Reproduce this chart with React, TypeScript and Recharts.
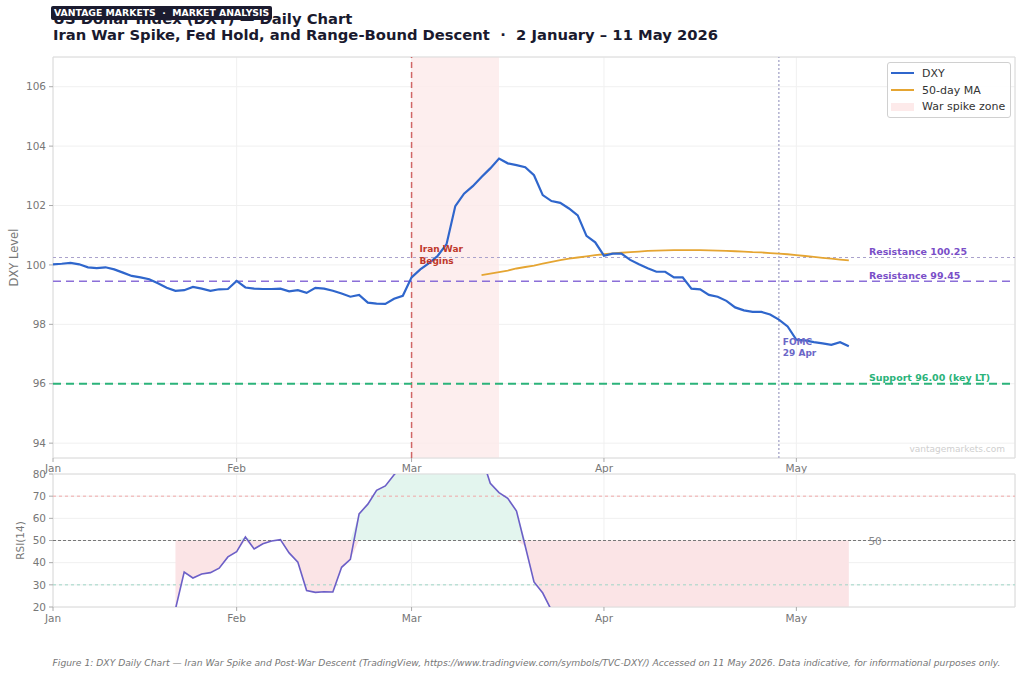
import {
  ComposedChart,
  Line,
  Area,
  XAxis,
  YAxis,
  CartesianGrid,
  ReferenceLine,
  ReferenceArea,
  ReferenceDot,
} from "recharts";

// x is a weekday index starting 2 Jan 2026 (0) through 11 May 2026 (91)
const MONTH_TICKS = [0, 21, 41, 63, 85];
const MONTH_LABELS = ["Jan", "Feb", "Mar", "Apr", "May"];
const DXY_TICKS = [94, 96, 98, 100, 102, 104, 106];
const RSI_TICKS = [20, 30, 40, 50, 60, 70, 80];

const DXY = [
  100.02, 100.04, 100.07, 100.02, 99.92, 99.89, 99.92, 99.85, 99.74, 99.63,
  99.58, 99.52, 99.38, 99.23, 99.13, 99.15, 99.26, 99.2, 99.13, 99.18,
  99.19, 99.46, 99.24, 99.2, 99.19, 99.19, 99.2, 99.11, 99.15, 99.06,
  99.23, 99.2, 99.13, 99.04, 98.93, 98.99, 98.73, 98.7, 98.69, 98.86,
  98.96, 99.58, 99.85, 100.06, 100.31, 100.7, 101.98, 102.4, 102.65, 102.96,
  103.25, 103.58, 103.42, 103.36, 103.29, 103.02, 102.35, 102.15, 102.09, 101.9,
  101.67, 100.98, 100.76, 100.31, 100.38, 100.38, 100.17, 100.02, 99.89, 99.77,
  99.77, 99.58, 99.58, 99.2, 99.18, 98.99, 98.93, 98.79, 98.57, 98.47,
  98.42, 98.42, 98.33, 98.16, 97.93, 97.48, 97.46, 97.4, 97.36, 97.31,
  97.4, 97.26,
];

const MA_START = 49;
const MA50 = [
  99.66, 99.71, 99.76, 99.81, 99.88, 99.93, 99.98, 100.04, 100.1, 100.16,
  100.21, 100.25, 100.29, 100.33, 100.36, 100.39, 100.41, 100.43, 100.45, 100.47,
  100.48, 100.49, 100.5, 100.5, 100.5, 100.5, 100.49, 100.48, 100.47, 100.46,
  100.45, 100.43, 100.42, 100.4, 100.38, 100.36, 100.33, 100.3, 100.27, 100.24,
  100.21, 100.18, 100.15,
];

const RSI_START = 14;
const RSI = [
  19, 35.8, 33.1, 34.9, 35.5, 37.5, 42.6, 45, 51.6, 46.2,
  48.5, 49.8, 50.4, 44.4, 40.2, 27.4, 26.6, 26.9, 26.8, 37.9,
  41.5, 62, 66.4, 72.6, 74.6, 79.7, 83.5, 87, 89, 90.5,
  91.5, 93, 95, 95.5, 94, 88, 75.8, 71.6, 69, 63.3,
  47.4, 31.3, 26.3, 18.5, 15.2, 12.8, 11.4, 9.6, 8.1, 9.9,
  11.2, 10.5, 8.8, 7.9, 9.3, 8.4, 10.2, 11, 9.7, 8.6,
  12.1, 13.4, 11.9, 10.8, 9.5, 8.2, 7.4, 6.9, 8.8, 10.1,
  11.6, 12.9, 12.2, 14, 15.1, 13.8, 14.6, 13.1,
];

const WAR_START = 41;
const WAR_END = 51;
const FOMC_DAY = 83;
const RES_HIGH = 100.25;
const RES_LOW = 99.45;
const SUPPORT = 96;
const X_MAX = 110;
const LEVEL_LABEL_X = 93.3;

const rows = DXY.map((v, i) => {
  const r = i >= RSI_START ? RSI[i - RSI_START] : null;
  return {
    i,
    dxy: v,
    ma: i >= MA_START ? MA50[i - MA_START] : null,
    rsi: r,
    below: r === null ? null : [Math.min(r, 50), 50],
    above: r === null ? null : [50, Math.max(r, 50)],
  };
});

const FONT = "'DejaVu Sans', sans-serif";
const monthLabel = (v: number) => MONTH_LABELS[MONTH_TICKS.indexOf(v)] ?? "";
const tickStyle = { fill: "#777", fontSize: 10.5, fontFamily: FONT };

const Note = (props: any) => {
  const { viewBox, lines, color, size = 9.5, dy = 0, gap = 12, anchor = "start", baseline, weight = "bold" } = props;
  if (!viewBox) return null;
  const x = viewBox.x + (viewBox.width || 0) / 2;
  const y = viewBox.y + (viewBox.height || 0) / 2 + dy;
  return (
    <text
      x={x}
      y={y}
      fill={color}
      fontSize={size}
      fontWeight={weight}
      fontFamily={FONT}
      textAnchor={anchor}
      dominantBaseline={baseline}
    >
      {lines.map((t: string, k: number) => (
        <tspan key={k} x={x} dy={k === 0 ? 0 : gap}>
          {t}
        </tspan>
      ))}
    </text>
  );
};

const AxisTitle = (props: any) => {
  const { viewBox, text, x0, size = 11 } = props;
  if (!viewBox) return null;
  const cy = viewBox.y + viewBox.height / 2;
  return (
    <text
      x={x0}
      y={cy}
      transform={`rotate(-90 ${x0} ${cy})`}
      textAnchor="middle"
      dominantBaseline="central"
      fill="#777"
      fontSize={size}
      fontFamily={FONT}
    >
      {text}
    </text>
  );
};

const LEGEND = [
  { name: "DXY", kind: "line", color: "#2f66cc" },
  { name: "50-day MA", kind: "line", color: "#e5a532" },
  { name: "War spike zone", kind: "patch", color: "#fdeaea" },
];

const App = () => {
  return (
    <div
      style={{
        position: "absolute",
        left: 0,
        top: 0,
        width: 1024,
        height: 678,
        background: "#fff",
        fontFamily: FONT,
        overflow: "hidden",
      }}
    >
      {/* Title */}
      <div
        style={{
          position: "absolute",
          left: 53,
          top: 11,
          fontSize: 14.75,
          lineHeight: "16px",
          fontWeight: "bold",
          color: "#1a1a2e",
          whiteSpace: "nowrap",
        }}
      >
        <div>US Dollar Index (DXY) — Daily Chart</div>
        <div>Iran War Spike, Fed Hold, and Range-Bound Descent &nbsp;·&nbsp; 2 January – 11 May 2026</div>
      </div>
      <div
        style={{
          position: "absolute",
          left: 51,
          top: 6,
          height: 13.5,
          lineHeight: "13.5px",
          padding: "0 3px",
          borderRadius: 2,
          background: "#1b1b2f",
          color: "#fff",
          fontSize: 9.3,
          fontWeight: "bold",
          whiteSpace: "nowrap",
        }}
      >
        VANTAGE MARKETS &nbsp;·&nbsp; MARKET ANALYSIS
      </div>

      {/* Main price chart */}
      <div style={{ position: "absolute", left: 0, top: 0 }}>
        <ComposedChart width={1024} height={480} data={rows} margin={{ top: 57, right: 9, left: 0, bottom: 2 }}>
          <CartesianGrid stroke="#f0f0f0" strokeWidth={1} />
          <ReferenceArea x1={WAR_START} x2={WAR_END} fill="#fdeaea" fillOpacity={0.8} stroke="none" />
          <XAxis
            type="number"
            dataKey="i"
            domain={[0, X_MAX]}
            ticks={MONTH_TICKS}
            interval={0}
            tickFormatter={monthLabel}
            tick={tickStyle}
            tickLine={{ stroke: "#aaa" }}
            tickSize={4}
            tickMargin={3}
            axisLine={false}
            height={20}
          />
          <YAxis
            domain={[93.5, 107]}
            ticks={DXY_TICKS}
            interval={0}
            tick={tickStyle}
            tickLine={{ stroke: "#aaa" }}
            tickSize={4}
            tickMargin={3}
            axisLine={false}
            width={53}
            label={<AxisTitle text="DXY Level" x0={14} size={11.5} />}
          />
          <ReferenceLine x={WAR_START} stroke="#c94c4c" strokeOpacity={0.85} strokeWidth={1.5} strokeDasharray="6 4" />
          <ReferenceLine x={FOMC_DAY} stroke="#9d9dc4" strokeWidth={1.2} strokeDasharray="2 2" />
          <ReferenceLine y={RES_HIGH} stroke="#aaa2cc" strokeWidth={1.2} strokeDasharray="3 3" />
          <ReferenceLine y={RES_LOW} stroke="#8b6fd8" strokeWidth={1.5} strokeDasharray="8 5" />
          <ReferenceLine y={SUPPORT} stroke="#2bb37a" strokeWidth={1.8} strokeDasharray="8 5" />
          <Line
            type="linear"
            dataKey="ma"
            stroke="#e5a532"
            strokeWidth={1.8}
            dot={false}
            activeDot={false}
            isAnimationActive={false}
          />
          <Line
            type="linear"
            dataKey="dxy"
            stroke="#2f66cc"
            strokeWidth={2.2}
            dot={false}
            activeDot={false}
            isAnimationActive={false}
          />
          <ReferenceDot
            x={41.9}
            y={100.42}
            r={0}
            label={<Note lines={["Iran War", "Begins"]} color="#c0392b" size={9} gap={12} />}
          />
          <ReferenceDot
            x={83.45}
            y={97.31}
            r={0}
            label={<Note lines={["FOMC", "29 Apr"]} color="#6b67c7" size={9} gap={11} />}
          />
          <ReferenceDot
            x={LEVEL_LABEL_X}
            y={RES_HIGH}
            r={0}
            label={<Note lines={["Resistance 100.25"]} color="#7a4fc8" dy={-2.5} />}
          />
          <ReferenceDot
            x={LEVEL_LABEL_X}
            y={RES_LOW}
            r={0}
            label={<Note lines={["Resistance 99.45"]} color="#7a4fc8" dy={-2.5} />}
          />
          <ReferenceDot
            x={LEVEL_LABEL_X}
            y={SUPPORT}
            r={0}
            label={<Note lines={["Support 96.00 (key LT)"]} color="#2bb37a" dy={-2.5} />}
          />
          <ReferenceArea x1={0} x2={X_MAX} y1={93.5} y2={107} fill="none" stroke="#dcdcdc" />
        </ComposedChart>
      </div>

      {/* RSI panel */}
      <div style={{ position: "absolute", left: 0, top: 440 }}>
        <ComposedChart width={1024} height={200} data={rows} margin={{ top: 34, right: 9, left: 0, bottom: 13 }}>
          <CartesianGrid stroke="#f0f0f0" strokeWidth={1} />
          <XAxis
            type="number"
            dataKey="i"
            domain={[0, X_MAX]}
            ticks={MONTH_TICKS}
            interval={0}
            tickFormatter={monthLabel}
            tick={tickStyle}
            tickLine={{ stroke: "#aaa" }}
            tickSize={4}
            tickMargin={4}
            axisLine={false}
            height={20}
          />
          <YAxis
            domain={[20, 80]}
            ticks={RSI_TICKS}
            interval={0}
            allowDataOverflow
            tick={tickStyle}
            tickLine={{ stroke: "#aaa" }}
            tickSize={4}
            tickMargin={3}
            axisLine={false}
            width={53}
            label={<AxisTitle text="RSI(14)" x0={20} size={10.5} />}
          />
          <Area
            type="linear"
            dataKey="below"
            stroke="none"
            fill="#fbe4e6"
            fillOpacity={1}
            activeDot={false}
            isAnimationActive={false}
          />
          <Area
            type="linear"
            dataKey="above"
            stroke="none"
            fill="#e3f5ee"
            fillOpacity={1}
            activeDot={false}
            isAnimationActive={false}
          />
          <ReferenceLine y={70} stroke="#f0a8a8" strokeWidth={1} strokeDasharray="3 3" />
          <ReferenceLine y={30} stroke="#9fd6c6" strokeWidth={1} strokeDasharray="3 3" />
          <ReferenceLine y={50} stroke="#777" strokeWidth={1} strokeDasharray="3 2" />
          <Line
            type="linear"
            dataKey="rsi"
            stroke="#6c5fc7"
            strokeWidth={1.6}
            dot={false}
            activeDot={false}
            isAnimationActive={false}
          />
          <ReferenceDot
            x={94}
            y={50}
            r={0}
            label={<Note lines={["50"]} color="#888" size={10.5} weight="normal" anchor="middle" baseline="central" />}
          />
          <ReferenceArea x1={0} x2={X_MAX} y1={20} y2={80} fill="none" stroke="#dcdcdc" />
        </ComposedChart>
      </div>

      {/* Legend */}
      <div
        style={{
          position: "absolute",
          left: 887,
          top: 62,
          width: 122,
          padding: "2px 0",
          border: "1px solid #d0d0d0",
          borderRadius: 3,
          background: "rgba(255,255,255,0.9)",
          fontSize: 11,
          color: "#333",
        }}
      >
        {LEGEND.map((item) => (
          <div key={item.name} style={{ display: "flex", alignItems: "center", height: 16.7, paddingLeft: 3 }}>
            {item.kind === "line" ? (
              <div style={{ width: 23, height: 2, background: item.color }} />
            ) : (
              <div style={{ width: 23, height: 8, background: item.color }} />
            )}
            <span style={{ marginLeft: 8 }}>{item.name}</span>
          </div>
        ))}
      </div>

      {/* Watermark */}
      <div
        style={{
          position: "absolute",
          right: 19,
          top: 444,
          fontSize: 9,
          color: "#cfcfcf",
        }}
      >
        vantagemarkets.com
      </div>

      {/* Caption */}
      <div
        style={{
          position: "absolute",
          left: 0,
          width: 1053,
          top: 657,
          textAlign: "center",
          fontSize: 9.2,
          fontStyle: "italic",
          color: "#777",
          whiteSpace: "nowrap",
        }}
      >
        Figure 1: DXY Daily Chart — Iran War Spike and Post-War Descent (TradingView,
        https://www.tradingview.com/symbols/TVC-DXY/) Accessed on 11 May 2026. Data indicative, for informational
        purposes only.
      </div>
    </div>
  );
};

export default App;
